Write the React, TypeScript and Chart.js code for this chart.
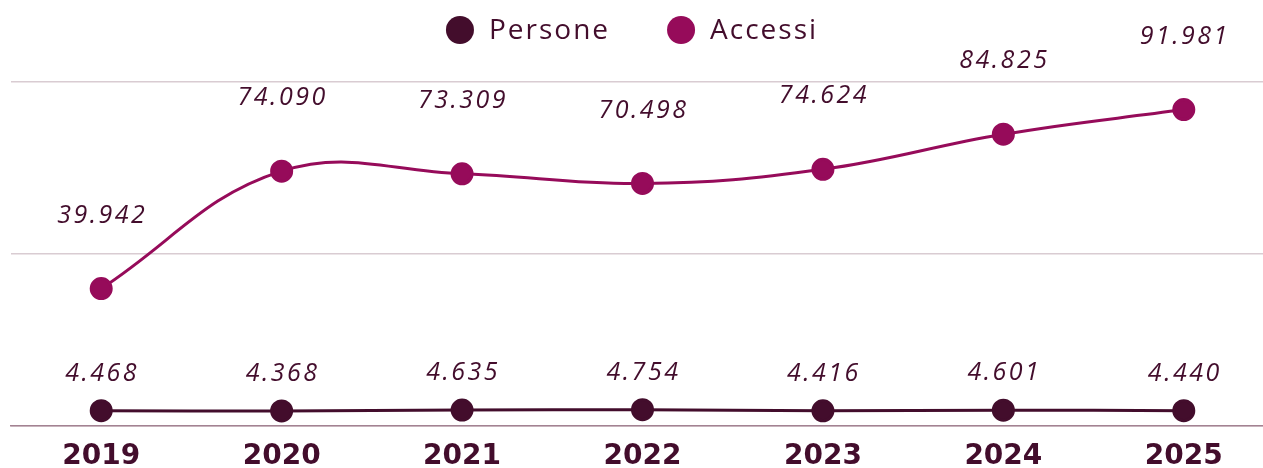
import React, { useEffect, useRef } from "react";
import { Chart, registerables } from "chart.js";

Chart.register(...registerables);

const years = ["2019", "2020", "2021", "2022", "2023", "2024", "2025"];
const persone = [4468, 4368, 4635, 4754, 4416, 4601, 4440];
const accessi = [39942, 74090, 73309, 70498, 74624, 84825, 91981];

const DARK = "#430d2c";
const MAGENTA = "#960b5a";

const fmt = (v: number) => String(v).replace(/\B(?=(\d{3})+(?!\d))/g, ".");

const labelPlugin = {
  id: "valueLabels",
  afterDatasetsDraw(chart: any) {
    const ctx = chart.ctx;
    ctx.save();
    ctx.font = "italic 25px 'Open Sans', sans-serif";
    (ctx as any).letterSpacing = "2.5px";
    ctx.fillStyle = DARK;
    ctx.textAlign = "center";
    ctx.textBaseline = "middle";
    chart.data.datasets.forEach((ds: any, i: number) => {
      const meta = chart.getDatasetMeta(i);
      const off = i === 0 ? 37 : 73;
      meta.data.forEach((pt: any, j: number) => {
        ctx.fillText(fmt(ds.data[j]), pt.x + 1, pt.y - off);
      });
    });
    ctx.restore();
  },
};

const legendPlugin = {
  id: "customLegend",
  afterDraw(chart: any) {
    const ctx = chart.ctx;
    ctx.save();
    ctx.font = "28px 'Open Sans', sans-serif";
    (ctx as any).letterSpacing = "2px";
    ctx.textBaseline = "middle";
    ctx.textAlign = "left";
    const r = 14;
    const textGap = 15;
    const itemGap = 57;
    const items = chart.data.datasets.map((ds: any) => ({
      text: ds.label,
      color: ds.backgroundColor,
      w: 2 * r + textGap + ctx.measureText(ds.label).width,
    }));
    const total = items.reduce((s: number, it: any) => s + it.w, 0) + itemGap * (items.length - 1);
    let x = 632 - total / 2;
    const y = 30;
    items.forEach((it: any) => {
      ctx.fillStyle = it.color;
      ctx.beginPath();
      ctx.arc(x + r, y, r, 0, Math.PI * 2);
      ctx.fill();
      ctx.fillStyle = DARK;
      ctx.fillText(it.text, x + 2 * r + textGap, y + 1);
      x += it.w + itemGap;
    });
    ctx.restore();
  },
};

export default function App() {
  const ref = useRef<HTMLCanvasElement>(null);
  useEffect(() => {
    document.body.style.margin = "0";
    const chart = new Chart(ref.current!, {
      type: "line",
      data: {
        labels: years,
        datasets: [
          {
            label: "Persone",
            data: persone,
            borderColor: DARK,
            backgroundColor: DARK,
            pointBackgroundColor: DARK,
            pointBorderColor: DARK,
            pointRadius: 10,
            borderWidth: 3,
            tension: 0.4,
          },
          {
            label: "Accessi",
            data: accessi,
            borderColor: MAGENTA,
            backgroundColor: MAGENTA,
            pointBackgroundColor: MAGENTA,
            pointBorderColor: MAGENTA,
            pointRadius: 10,
            borderWidth: 3,
            tension: 0.4,
          },
        ],
      },
      options: {
        animation: false,
        responsive: false,
        clip: false as any,
        layout: { autoPadding: false, padding: { left: 11, right: 0, top: 82, bottom: 0 } },
        plugins: {
          tooltip: { enabled: false },
          legend: { display: false },
        },
        scales: {
          x: {
            offset: true,
            grid: { display: false, drawTicks: false },
            border: { display: true, color: "#a38292", width: 1.5 },
            afterFit: (scale: any) => {
              scale.height = 42;
            },
            ticks: {
              color: DARK,
              padding: 17,
              maxRotation: 0,
              font: { family: "'DejaVu Sans', sans-serif", size: 28, weight: "bold", lineHeight: 1 },
            },
          },
          y: {
            min: 0,
            max: 100000,
            ticks: { display: false, stepSize: 50000 },
            grid: { color: "#d9ccd2", lineWidth: 1.5, drawTicks: false },
            border: { display: false },
          },
        },
      },
      plugins: [labelPlugin, legendPlugin],
    });
    return () => chart.destroy();
  }, []);
  return (
    <div style={{ position: "fixed", left: 0, top: 0, width: 1263, height: 468, overflow: "hidden" }}>
      <canvas ref={ref} width={1274} height={468} style={{ display: "block" }} />
    </div>
  );
}
